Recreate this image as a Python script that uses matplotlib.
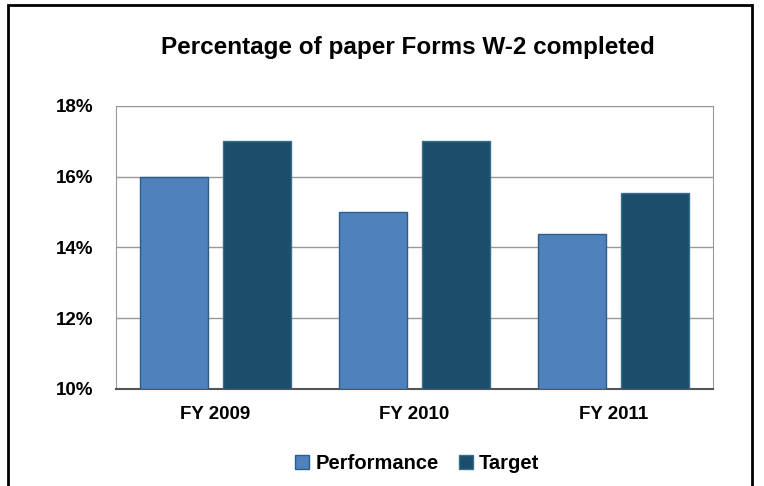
import matplotlib.pyplot as plt
import matplotlib.patches as patches
import numpy as np

plt.rcParams['font.family'] = ['Liberation Sans', 'DejaVu Sans']

years = ["FY 2009", "FY 2010", "FY 2011"]
performance = [16.0, 15.0, 14.37]
target = [17.0, 17.0, 15.55]

fig = plt.figure(figsize=(7.64, 4.86), dpi=100)
ax = fig.add_axes([0.1518, 0.1996, 0.7814, 0.5823])

# outer frame of the chart
fig.patches.append(patches.Rectangle((8/764, -0.01), 744/764, 1 - 5/486 + 0.01,
                                     transform=fig.transFigure, fill=False,
                                     edgecolor='black', linewidth=2))

x = np.arange(len(years))
w = 0.34
ax.bar(x - 0.21, [v - 10 for v in performance], w, bottom=10, color='#4F81BD',
       edgecolor='#2E5E86', linewidth=1, label='Performance', zorder=3)
ax.bar(x + 0.21, [v - 10 for v in target], w, bottom=10, color='#1A4E6B',
       edgecolor='#3A6E8B', linewidth=1, label='Target', zorder=3)

ax.set_xlim(-0.5, 2.5)
ax.set_ylim(10, 18)
ax.set_yticks([10, 12, 14, 16, 18])
ax.set_yticklabels(["10%", "12%", "14%", "16%", "18%"], fontsize=13.5, fontweight='bold')
ax.set_xticks(x)
ax.set_xticklabels(years, fontsize=13.5, fontweight='bold')
ax.tick_params(axis='x', length=0, pad=12)
ax.tick_params(axis='y', length=0, pad=16)
ax.yaxis.grid(True, color='#999999', linewidth=1, zorder=0)
for s in ['top', 'right', 'left']:
    ax.spines[s].set_color('#999999')
ax.spines['bottom'].set_color('#555555')
ax.spines['bottom'].set_linewidth(1.5)

fig.text(0.534, 0.903, "Percentage of paper Forms W-2 completed", ha='center',
         va='center', fontsize=17.5, fontweight='bold')

fig.legend(loc='center', bbox_to_anchor=(0.546, 0.047), ncol=2, frameon=False,
           prop={'size': 14.5, 'weight': 'bold'}, handlelength=0.7, handleheight=0.7,
           handletextpad=0.3, columnspacing=1.0)

fig.savefig("out.png", dpi=100)
